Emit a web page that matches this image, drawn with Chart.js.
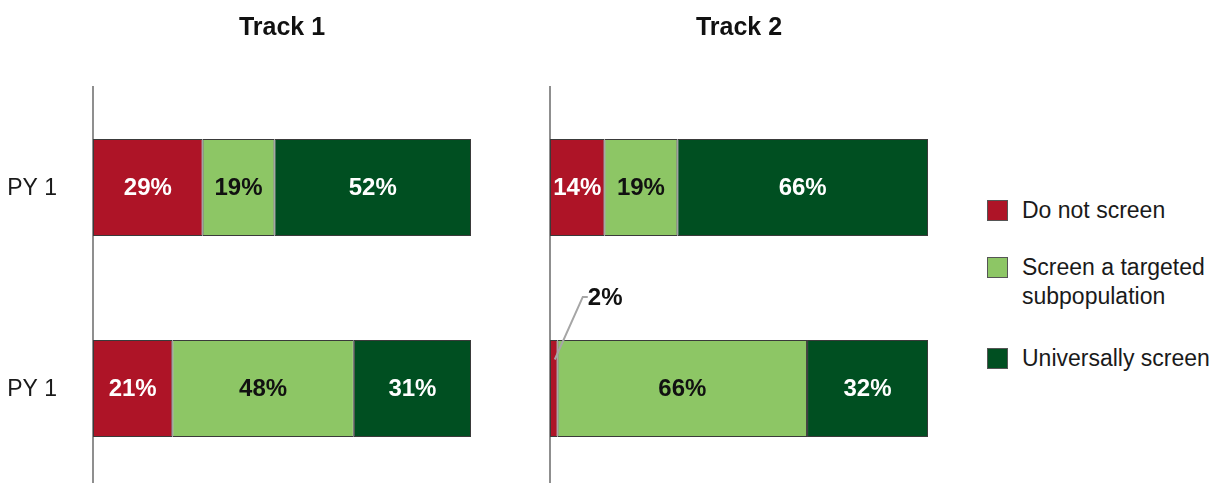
<!DOCTYPE html>
<html>
<head>
<meta charset="utf-8">
<script src="https://cdn.jsdelivr.net/npm/chart.js@4"></script>
<style>
  html, body { margin: 0; padding: 0; background: #fff; overflow: hidden; }
  body { width: 1220px; height: 483px; position: relative; font-family: "Liberation Sans", Arial, sans-serif; }
  .box { position: absolute; top: 0; width: 480px; height: 489px; }
  #legend { position: absolute; left: 987px; top: 0; color: #1a1a1a; font-size: 23px; }
  .item { position: absolute; left: 0; white-space: nowrap; }
  .sw { position: absolute; left: 0; width: 21px; height: 21px; border: 1px solid #555; box-sizing: border-box; }
  .lbl { position: absolute; left: 35px; line-height: 29px; }
</style>
</head>
<body>
<div class="box" style="left:0"><canvas id="track1"></canvas></div>
<div class="box" style="left:457px"><canvas id="track2"></canvas></div>
<div id="legend"></div>

<script>
// categories and values (percent of bar)
const categories = ['PY 1', 'PY 1'];
const series_names = ['Do not screen', 'Screen a targeted subpopulation', 'Universally screen'];
const series_colors = ['#ae1427', '#8dc665', '#004f21'];
const label_colors = ['#ffffff', '#111111', '#ffffff'];

const track1_do_not = [29, 21];
const track1_targeted = [19, 48];
const track1_universal = [52, 31];

const track2_do_not = [14.4, 2];
const track2_targeted = [19.3, 66];
const track2_universal = [66.3, 32];

const FONT = "'Liberation Sans', Arial, sans-serif";

// writes the % labels in the middle of each segment, small ones get a leader line
const barLabels = {
    id: 'barLabels',
    afterDatasetsDraw(chart) {
        const c = chart.ctx;
        c.save();
        c.font = 'bold 24px ' + FONT;
        c.textBaseline = 'middle';
        chart.data.datasets.forEach((ds, di) => {
            const meta = chart.getDatasetMeta(di);
            meta.data.forEach((bar, i) => {
                const txt = Math.round(ds.data[i]) + '%';
                const w = Math.abs(bar.x - bar.base);
                const cy = bar.y;
                if (w > 45) {
                    c.fillStyle = label_colors[di];
                    c.textAlign = 'center';
                    c.fillText(txt, (bar.x + bar.base) / 2, cy + 1);
                } else {
                    // leader line
                    const sx = (bar.x + bar.base) / 2 + 1;
                    const sy = cy - 29;
                    const ey = cy - bar.height / 2 - 43;
                    c.strokeStyle = '#a6a6a6';
                    c.lineWidth = 2;
                    c.beginPath();
                    c.moveTo(sx, sy);
                    c.lineTo(sx + 28, ey);
                    c.lineTo(sx + 33, ey);
                    c.stroke();
                    c.fillStyle = '#111111';
                    c.textAlign = 'left';
                    c.fillText(txt, sx + 33, ey + 1);
                }
            });
        });
        c.restore();
    }
};

// category names left of the axis
const catLabels = {
    id: 'catLabels',
    afterDraw(chart, args, opts) {
        if (!opts.show) return;
        const c = chart.ctx;
        const y = chart.scales.y;
        c.save();
        c.font = '23px ' + FONT;
        c.fillStyle = '#1a1a1a';
        c.textAlign = 'right';
        c.textBaseline = 'middle';
        categories.forEach((lab, i) => {
            c.fillText(lab, chart.chartArea.left - 36, y.getPixelForValue(i) + 1);
        });
        c.restore();
    }
};

function makeDatasets(a, b, d) {
    return [a, b, d].map((vals, i) => ({
        label: series_names[i],
        data: vals,
        backgroundColor: series_colors[i],
        borderColor: '#3a3a3a',
        borderWidth: 1,
        borderSkipped: false,
        categoryPercentage: 1,
        barPercentage: 0.483
    }));
}

function makeChart(id, title, datasets, showTicks) {
    return new Chart(document.getElementById(id), {
        type: 'bar',
        data: { labels: categories, datasets: datasets },
        options: {
            indexAxis: 'y',
            responsive: true,
            maintainAspectRatio: false,
            animation: false,
            layout: { padding: { left: 0, right: 9, top: 0, bottom: 0 } },
            plugins: {
                legend: { display: false },
                tooltip: { enabled: false },
                catLabels: { show: showTicks },
                title: {
                    display: true,
                    text: title,
                    fullSize: false,
                    color: '#111111',
                    font: { family: FONT, size: 25, weight: 'bold', lineHeight: 1 },
                    padding: { top: 16, bottom: 46 }
                }
            },
            scales: {
                x: { stacked: true, min: 0, max: 100, display: false },
                y: {
                    stacked: true,
                    grid: { display: false, drawTicks: false },
                    border: { display: true, color: '#8f8f8f', width: 2 },
                    ticks: { display: false },
                    afterFit(scale) { scale.width = 93; }
                }
            }
        },
        plugins: [barLabels, catLabels]
    });
}

makeChart('track1', 'Track 1', makeDatasets(track1_do_not, track1_targeted, track1_universal), true);
makeChart('track2', 'Track 2', makeDatasets(track2_do_not, track2_targeted, track2_universal), false);

// legend on the right
const legend_tops = [200, 257, 348];
const legend_lines = [['Do not screen'], ['Screen a targeted', 'subpopulation'], ['Universally screen']];
const leg = document.getElementById('legend');
series_names.forEach((name, i) => {
    const item = document.createElement('div');
    item.className = 'item';
    item.style.top = legend_tops[i] + 'px';
    item.innerHTML = '<div class="sw" style="background:' + series_colors[i] + '"></div>' +
        '<div class="lbl" style="top:-4px">' + legend_lines[i].join('<br>') + '</div>';
    leg.appendChild(item);
});
</script>
</body>
</html>
